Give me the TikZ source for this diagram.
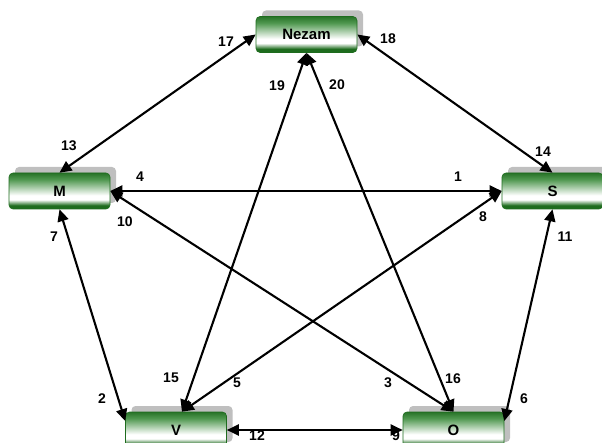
\documentclass[tikz,border=0pt]{standalone}
\usepackage{fontspec}
\setmainfont{Liberation Sans}
\usetikzlibrary{arrows.meta,shadows}

\definecolor{boxtop}{RGB}{40,115,40}
\definecolor{boxmid}{RGB}{80,152,80}
\definecolor{boxbot}{RGB}{30,108,30}

% green band top and bottom, white in the middle
\pgfdeclareverticalshading{boxfade}{100bp}{color(0bp)=(boxbot); color(25bp)=(boxbot); color(30bp)=(boxbot); color(38bp)=(white); color(44bp)=(white); color(66bp)=(boxmid); color(75bp)=(boxtop); color(100bp)=(boxtop)}

\begin{document}
\begin{tikzpicture}[x=1pt, y=-1pt, >={Triangle[length=12pt,width=11pt]},
    unit/.style={rectangle, rounded corners=4pt, draw=boxbot, line width=0.6pt,
        shading=boxfade, minimum width=101pt, minimum height=36pt, inner sep=0pt,
        font=\bfseries\fontsize{15}{15}\selectfont,
        drop shadow={shadow xshift=6pt, shadow yshift=6pt, fill=gray!50, opacity=1}},
    link/.style={<->, line width=2.1pt},
    num/.style={inner sep=0pt, font=\bfseries\fontsize{14}{14}\selectfont}]
    \useasboundingbox (0,0) rectangle (602,443);

    % the five units
    \node[unit] (Nezam) at (306.5,34.5) {Nezam};
    \node[unit] (M) at (59.5,191) {M};
    \node[unit] (S) at (552.5,191) {S};
    \node[unit] (V) at (176,430) {V};
    \node[unit] (O) at (453.5,430) {O};

    % links between them
    \draw[link] (Nezam.west) -- (M.north);
    \draw[link] (Nezam.east) -- (S.north);
    \draw[link] (Nezam.south) -- (V.72);
    \draw[link] (Nezam.south) -- (O.north);
    \draw[link] (M.east) -- (S.west);
    \draw[link] (M.east) -- (O.north);
    \draw[link] (S.west) -- (V.72);
    \draw[link] (M.south) -- (V.170);
    \draw[link] (S.south) -- (O.10);
    \draw[link] (V.east) -- (O.west);

    % numbers at the link ends
    \foreach \t/\p in {17/{(226,42)}, 18/{(388,39)}, 19/{(277,86)}, 20/{(337,85)},
                       13/{(69,146)}, 14/{(543,152)}, 4/{(140,177)}, 1/{(458,177)},
                       10/{(125,222)}, 8/{(483,217)}, 7/{(54,237)}, 11/{(565,237)},
                       15/{(171,378)}, 5/{(237,383)}, 3/{(388,383)}, 16/{(453,379)},
                       2/{(102,399)}, 6/{(524,399)}, 12/{(257,436)}, 9/{(396,436)}}
        \node[num] (n\t) at \p {\t};
\end{tikzpicture}
\end{document}
